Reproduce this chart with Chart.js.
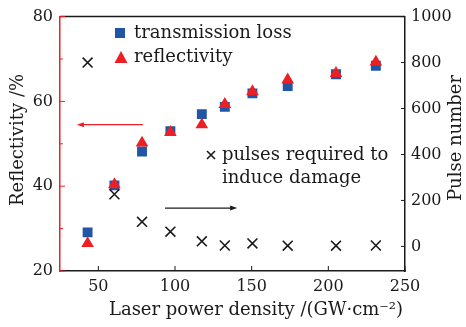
<!DOCTYPE html>
<html>
<head>
<meta charset="utf-8">
<script src="https://cdn.jsdelivr.net/npm/chart.js@4.4.1/dist/chart.umd.min.js"></script>
<style>
  html, body { margin: 0; padding: 0; background: #fff; }
  #wrap { width: 466px; height: 327px; }
</style>
</head>
<body>
<div id="wrap"><canvas id="c" width="466" height="327"></canvas></div>
<script>
// values
const powerDensity = [43, 60.5, 78.5, 97, 117.5, 132.5, 150.5, 173.5, 205, 231];
const transmissionLoss = [29.1, 40.2, 48.2, 53, 57, 58.7, 61.9, 63.6, 66.4, 68.4];
const reflectivity = [26.5, 40.4, 50.2, 52.7, 54.5, 59.3, 62.3, 65.1, 66.6, 69.3];
const pulseNumber = [800, 227, 107, 64, 22, 4, 13, 3, 3, 4];
const xTicks = [50, 100, 150, 200, 250];
const leftTicks = [20, 40, 60, 80];
const leftMinor = [30, 50, 70];
const rightTicks = [0, 200, 400, 600, 800, 1000];

const RED = 'rgb(236,32,36)';
const BLUE = 'rgb(33,85,165)';
const INK = '#1a1a1a';
const SERIF = '"DejaVu Serif", serif';

const pts = (ys) => powerDensity.map((x, i) => ({ x: x, y: ys[i] }));
const setTicks = (list) => (scale) => { scale.ticks = list.map(v => ({ value: v })); };
const plain = (v) => String(v);

// inward ticks, top frame, arrows, legend and axis titles
const extras = {
  id: 'extras',
  afterDraw(chart) {
    const { ctx, chartArea: a, scales } = chart;
    const x = scales.x, yl = scales.y, yr = scales.y1;
    ctx.save();
    ctx.lineWidth = 1.5;
    ctx.strokeStyle = INK;
    ctx.beginPath();
    ctx.moveTo(a.left, a.top); ctx.lineTo(a.right, a.top);
    ctx.stroke();

    ctx.lineWidth = 1;
    ctx.beginPath();
    xTicks.forEach(v => { const p = x.getPixelForValue(v); ctx.moveTo(p, a.bottom); ctx.lineTo(p, a.bottom - 5); });
    rightTicks.forEach(v => { const p = yr.getPixelForValue(v); ctx.moveTo(a.right, p); ctx.lineTo(a.right - 4, p); });
    ctx.stroke();

    ctx.strokeStyle = RED;
    ctx.beginPath();
    leftTicks.forEach(v => { const p = yl.getPixelForValue(v); ctx.moveTo(a.left, p); ctx.lineTo(a.left + 5, p); });
    leftMinor.forEach(v => { const p = yl.getPixelForValue(v); ctx.moveTo(a.left, p); ctx.lineTo(a.left + 3, p); });
    ctx.stroke();

    const arrow = (x0, x1, y, col) => {
      const dir = Math.sign(x1 - x0);
      ctx.strokeStyle = col; ctx.fillStyle = col; ctx.lineWidth = 1.2;
      ctx.beginPath(); ctx.moveTo(x0, y); ctx.lineTo(x1 - dir * 5, y); ctx.stroke();
      ctx.beginPath(); ctx.moveTo(x1, y); ctx.lineTo(x1 - dir * 7, y - 2.5); ctx.lineTo(x1 - dir * 7, y + 2.5); ctx.closePath(); ctx.fill();
    };
    arrow(x.getPixelForValue(79), x.getPixelForValue(36), yl.getPixelForValue(54.5), RED);
    arrow(x.getPixelForValue(93.5), x.getPixelForValue(140.5), yr.getPixelForValue(167), INK);

    // legend
    ctx.fillStyle = BLUE;
    ctx.fillRect(115, 28, 10, 10);
    ctx.fillStyle = RED;
    ctx.beginPath(); ctx.moveTo(121, 51); ctx.lineTo(127.5, 63); ctx.lineTo(114.5, 63); ctx.closePath(); ctx.fill();
    ctx.strokeStyle = INK; ctx.lineWidth = 1.6;
    ctx.beginPath();
    ctx.moveTo(207, 151); ctx.lineTo(215, 159); ctx.moveTo(215, 151); ctx.lineTo(207, 159);
    ctx.stroke();

    ctx.fillStyle = INK;
    ctx.font = '18px ' + SERIF;
    ctx.textAlign = 'left'; ctx.textBaseline = 'middle';
    ctx.fillText('transmission loss', 134, 33);
    ctx.fillText('reflectivity', 134, 57);
    ctx.fillText('pulses required to', 222, 155);
    ctx.fillText('induce damage', 222, 178);

    // axis titles
    ctx.textAlign = 'center';
    ctx.fillText('Laser power density /(GW\u00b7cm\u207b\u00b2)', 256, 310);
    ctx.save(); ctx.translate(18, 140); ctx.rotate(-Math.PI / 2);
    ctx.fillText('Reflectivity /%', 0, 0); ctx.restore();
    ctx.save(); ctx.translate(456, 138); ctx.rotate(-Math.PI / 2);
    ctx.fillText('Pulse number', 0, 0); ctx.restore();
    ctx.restore();
  }
};

new Chart(document.getElementById('c').getContext('2d'), {
  type: 'scatter',
  data: {
    datasets: [
      { label: 'reflectivity', data: pts(reflectivity), yAxisID: 'y', order: 1,
        pointStyle: 'triangle', pointRadius: 7.3, backgroundColor: RED, borderColor: RED, borderWidth: 0 },
      { label: 'transmission loss', data: pts(transmissionLoss), yAxisID: 'y', order: 2,
        pointStyle: 'rect', pointRadius: 7, backgroundColor: BLUE, borderColor: BLUE, borderWidth: 0 },
      { label: 'pulses required to induce damage', data: pts(pulseNumber), yAxisID: 'y1', order: 0,
        pointStyle: 'crossRot', pointRadius: 7, backgroundColor: INK, borderColor: INK, borderWidth: 1.6 }
    ]
  },
  options: {
    responsive: false,
    animation: false,
    layout: { padding: { top: 13, left: 0, right: 0, bottom: 0 } },
    plugins: { legend: { display: false }, tooltip: { enabled: false } },
    scales: {
      x: {
        type: 'linear', position: 'bottom', min: 25, max: 250,
        afterBuildTicks: setTicks(xTicks),
        afterFit: (s) => { s.height = 56; },
        grid: { display: false, drawTicks: false },
        border: { color: INK, width: 1.5 },
        ticks: { color: INK, padding: 6, callback: plain, font: { family: SERIF, size: 16 } }
      },
      y: {
        type: 'linear', position: 'left', min: 20, max: 80,
        afterBuildTicks: setTicks(leftTicks),
        afterFit: (s) => { s.width = 60; },
        grid: { display: false, drawTicks: false },
        border: { color: RED, width: 1.5 },
        ticks: { color: INK, padding: 7, callback: plain, font: { family: SERIF, size: 16 } }
      },
      y1: {
        type: 'linear', position: 'right', min: -107, max: 1000,
        afterBuildTicks: setTicks(rightTicks),
        afterFit: (s) => { s.width = 61; },
        grid: { display: false, drawTicks: false },
        border: { color: INK, width: 1.5 },
        ticks: { color: INK, padding: 6, callback: plain, font: { family: SERIF, size: 16 } }
      }
    }
  },
  plugins: [extras]
});
</script>
</body>
</html>
